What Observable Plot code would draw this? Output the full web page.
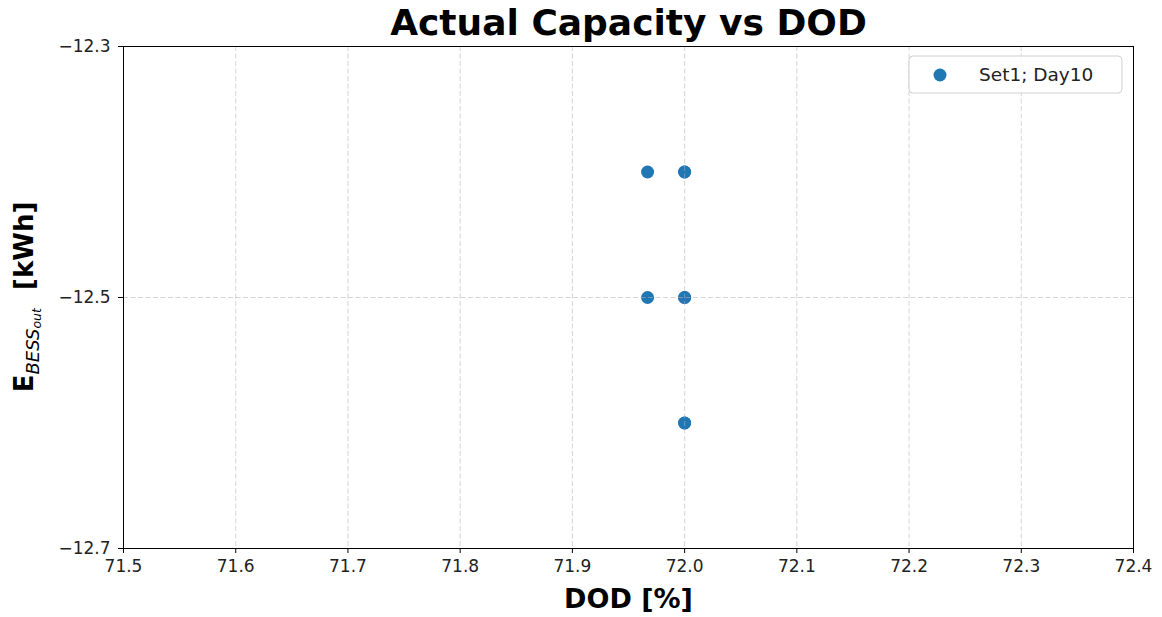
<!DOCTYPE html>
<html>
<head>
<meta charset="utf-8">
<script src="https://cdn.jsdelivr.net/npm/d3@7"></script>
<script src="https://cdn.jsdelivr.net/npm/@observablehq/plot@0.6"></script>
<style>
  html, body { margin: 0; padding: 0; background: #fff; }
  svg { display: block; font-family: "DejaVu Sans", sans-serif; }
  g[aria-label*="axis"] text { font-size: 17px !important; font-family: "DejaVu Sans", sans-serif !important; }
</style>
</head>
<body>
<div id="chart"></div>
<script>
const dodValues = [71.967, 71.967, 72.0, 72.0, 72.0, 72.0, 72.0, 72.0];
const energyValues = [-12.4, -12.5, -12.4, -12.4, -12.5, -12.5, -12.6, -12.6];
const xTicks = [71.5, 71.6, 71.7, 71.8, 71.9, 72.0, 72.1, 72.2, 72.3, 72.4];
const yTicks = [-12.7, -12.5, -12.3];
const seriesName = "Set1; Day10";
const titleText = "Actual Capacity vs DOD";
const xLabel = "DOD [%]";

const data = dodValues.map((d, i) => ({dod: d, e: energyValues[i]}));
const blue = "#1f77b4";
const gridStyle = {stroke: "#b0b0b0", strokeOpacity: 0.6, strokeDasharray: "5,2.5", strokeWidth: 0.9};

const svg = Plot.plot({
  width: 1162,
  height: 617,
  marginLeft: 123,
  marginRight: 29,
  marginTop: 46,
  marginBottom: 69,
  style: {fontFamily: "DejaVu Sans, sans-serif", background: "white", fontSize: "17px"},
  x: {domain: [71.5, 72.4], label: null},
  y: {domain: [-12.7, -12.3], label: null},
  marks: [
    Plot.dot(data, {x: "dod", y: "e", r: 6.5, fill: blue, stroke: "none"}),
    Plot.gridX(xTicks, gridStyle),
    Plot.gridY(yTicks, gridStyle),
    Plot.frame({stroke: "black", strokeWidth: 1}),
    Plot.axisX({ticks: xTicks, tickFormat: d => d.toFixed(1), tickSize: 5, tickPadding: 6, fontSize: 17, label: null, fill: "#222"}),
    Plot.axisY({ticks: yTicks, tickFormat: d => "\u2212" + Math.abs(d).toFixed(1), tickSize: 5, tickPadding: 8, fontSize: 17, label: null, fill: "#222"}),
    Plot.text([titleText], {frameAnchor: "top", lineAnchor: "middle", dy: -23, fontSize: 36, fontWeight: "bold", fill: "black"}),
    Plot.text([xLabel], {frameAnchor: "bottom", lineAnchor: "middle", dy: 51, fontSize: 27, fontWeight: "bold", fill: "black"})
  ]
});

document.getElementById("chart").appendChild(svg);

const s = d3.select(svg);

// Y axis label with subscript
const yl = s.append("text")
  .attr("transform", "translate(33,297) rotate(-90)")
  .attr("text-anchor", "middle")
  .attr("font-size", 26)
  .attr("font-weight", "bold")
  .attr("fill", "black");
yl.append("tspan").text("E");
yl.append("tspan").attr("font-size", 18).attr("font-style", "italic").attr("font-weight", "normal").attr("dy", 6).text("BESS");
yl.append("tspan").attr("font-size", 12.5).attr("font-style", "italic").attr("font-weight", "normal").attr("dy", 2).text("out");
yl.append("tspan").attr("dy", -8).text("\u00a0\u00a0[kWh]");

// Legend
const lg = s.append("g").attr("transform", "translate(909,56)");
lg.append("rect").attr("width", 213).attr("height", 37).attr("rx", 4)
  .attr("fill", "white").attr("fill-opacity", 0.85).attr("stroke", "#d0d0d0");
lg.append("circle").attr("cx", 31).attr("cy", 19).attr("r", 6.5).attr("fill", blue);
lg.append("text").attr("x", 70).attr("y", 19).attr("dy", "0.35em").attr("text-anchor", "start")
  .attr("font-size", 18.5).attr("fill", "#222").text(seriesName);
</script>
</body>
</html>
